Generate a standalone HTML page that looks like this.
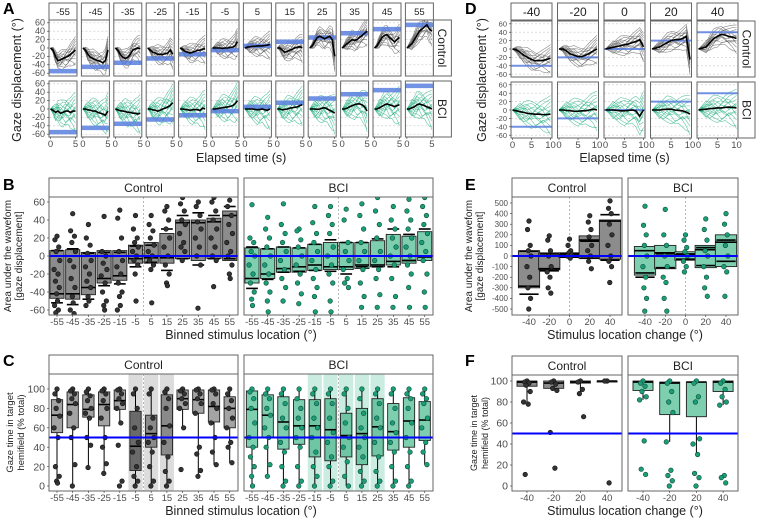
<!DOCTYPE html>
<html><head><meta charset="utf-8"><style>
html,body{margin:0;padding:0;background:#fff;}
svg{display:block;font-family:"Liberation Sans",Arial,sans-serif;}
</style></head><body>
<svg id="fig" width="760" height="519" viewBox="0 0 760 519" xmlns="http://www.w3.org/2000/svg"></svg>
<script>
// ---------- DATA ----------
const catsA = [-55,-45,-35,-25,-15,-5,5,15,25,35,45,55];
const timeA = [0,0.5,1,1.5,2,2.5,3,3.5,4,4.5,5];
const meanCtrlA = [
 [0,-5,-20,-30,-28,-25,-22,-20,-15,-10,-5],
 [0,-5,-15,-22,-25,-28,-30,-32,-35,-30,-5],
 [0,-5,-15,-22,-25,-22,-15,-5,-2,0,-2],
 [0,-5,-10,-12,-15,-15,-15,-14,-12,-5,-15],
 [0,-3,-8,-10,-12,-10,-8,-6,-5,-3,-2],
 [0,0,0,0,-1,0,0,1,2,5,15],
 [0,2,3,4,4,5,5,5,6,7,8],
 [0,0,-5,-10,-8,-5,-3,0,2,3,0],
 [0,5,15,25,28,25,22,25,28,20,-20],
 [0,5,10,15,20,18,20,25,30,35,40],
 [0,5,15,25,30,32,25,20,15,20,25],
 [0,5,10,20,30,40,45,50,55,45,40]];
const meanBciA = [
 [0,-3,-8,-5,-10,-8,-5,-5,-8,-5,-5],
 [0,0,-2,-3,-5,-5,-8,-10,-12,-15,-5],
 [0,-2,-4,-5,-6,-8,-8,-10,-10,-12,-10],
 [0,0,-2,-3,-5,-3,0,2,5,8,15],
 [0,0,-1,-2,-3,-2,-1,-2,-3,2,0],
 [0,0,1,2,3,4,5,6,8,12,20],
 [0,0,0,0,-1,-2,-1,0,-2,-3,0],
 [0,0,-2,-1,0,2,3,4,5,8,10],
 [0,0,0,-1,0,2,3,0,-3,-6,-10],
 [0,0,2,5,8,10,12,12,10,5,-5],
 [0,0,3,6,10,12,10,8,6,8,10],
 [0,0,3,5,10,12,10,8,5,3,0]];
const catsD = [-40,-20,0,20,40];
const timeD = [0,1,2,3,4,5,6,7,8,9,10];
const meanCtrlD = [
 [0,-2,-8,-15,-20,-25,-28,-28,-27,-25,-22],
 [0,0,-5,-12,-15,-18,-18,-15,-10,-5,0],
 [0,2,4,6,8,10,12,15,18,22,5],
 [0,2,5,10,15,20,22,22,25,30,-25],
 [0,2,5,15,25,30,35,33,30,28,25]];
const meanBciD = [
 [0,-2,-4,-6,-8,-9,-10,-10,-11,-11,-10],
 [0,0,-1,-2,-3,-3,-2,-2,0,2,0],
 [0,0,0,-1,-2,-2,-1,0,-2,-15,0],
 [0,0,0,1,2,2,0,-1,-2,-5,-10],
 [0,1,2,3,4,5,5,6,7,6,5]];
// individual-trial deviation patterns (hand-read shapes)
const trialDev = [
 [0,4,10,18,22,25,20,28,35,40,45],
 [0,-3,-8,-14,-20,-25,-30,-28,-35,-40,-38],
 [0,6,5,10,8,14,18,12,10,15,20],
 [0,-5,-6,-4,-10,-12,-8,-15,-18,-12,-10],
 [0,2,12,8,2,-6,-2,5,12,22,30],
 [0,-2,-12,-20,-15,-8,-4,-10,-20,-30,-45],
 [0,8,15,25,32,30,26,20,18,10,5],
 [0,-6,-15,-22,-28,-32,-26,-20,-14,-10,-6],
 [0,3,-2,4,-4,2,-3,6,-6,4,2],
 [0,-1,6,12,18,12,6,2,-4,-2,8],
 [0,5,-4,9,14,4,-8,-12,-6,3,12],
 [0,-4,3,-9,-14,-2,10,16,8,-4,-16],
 [0,10,20,15,5,0,8,18,26,32,36],
 [0,-8,-18,-10,-4,-14,-24,-20,-12,-18,-26]];

const catsB = [-55,-45,-35,-25,-15,-5,5,15,25,35,45,55];
const bCtrlLo  = [-47,-48,-43,-30,-27,-8,-8,-8,-3,-5,-3,-5];
const bCtrlHi  = [6,7,4,6,6,12,15,25,40,40,42,50];
const bCtrlMed = [-42,-42,-35,-25,-22,-3,-2,-2,37,37,38,45];
const bCtrlEL  = [-52,-54,-48,-33,-31,-12,-7,-16,-3,-10,-3,-3];
const bCtrlEH  = [6,8,3,4,4,11,12,30,45,48,45,55];
const bBciLo  = [-30,-25,-18,-18,-16,-15,-15,-14,-12,-10,-8,-5];
const bBciHi  = [9,8,10,9,13,15,15,15,17,24,22,27];
const bBciMed = [-25,-20,-14,-12,-10,-12,-12,-10,-10,-6,-5,-1];
const bBciEL  = [-36,-26,-18,-17,-16,-17,-20,-12,-12,-12,-5,-1];
const bBciEH  = [10,8,10,9,13,18,15,15,19,30,24,30];
const bCtrlPts = [
 [22,18,10,5,-5,-15,-20,-28,-35,-42,-50,-55,-60,-63],
 [47,28,22,15,5,-5,-12,-25,-35,-45,-52,-60,-64],
 [35,20,12,3,-5,-12,-20,-28,-35,-45,-50,-55],
 [44,5,0,-8,-15,-22,-30,-40,-50,-55,-60],
 [51,42,20,5,-5,-12,-20,-30,-40,-45,-55,-60],
 [45,30,20,15,10,5,0,-5,-10,-20,-50],
 [45,35,28,20,12,5,0,-5,-10,-15,-52],
 [55,50,40,30,20,10,0,-10,-20,-30,-33],
 [65,58,50,40,35,25,15,10,5,-5],
 [60,55,45,38,30,20,10,0,-10,-58],
 [65,60,50,40,30,20,10,0,-5,-34],
 [62,55,45,35,25,15,5,0,-10,-20,-25]];
const bBciPts = [
 [57,20,15,5,0,-10,-20,-30,-40,-48,-55],
 [43,30,20,10,0,-10,-20,-30,-40,-50,-62],
 [58,35,25,15,5,-5,-15,-25,-35,-50],
 [30,28,18,10,0,-10,-20,-30,-42,-53],
 [55,37,25,15,5,-5,-15,-25,-35,-45,-62],
 [55,45,35,25,10,0,-10,-20,-30,-50,-62],
 [52,40,15,5,-5,-15,-25,-30,-35],
 [58,45,30,15,5,-5,-15,-30,-45,-57],
 [65,50,35,20,5,-5,-15,-25,-43,-57],
 [55,40,30,20,10,0,-10,-25,-45,-57],
 [63,50,40,30,20,10,0,-10,-20,-35,-57],
 [65,55,45,35,25,15,5,-5,-20,-40,-57]];

const cCtrlQ1  = [55,60,71,62,79,16,40,32,79,75,66,60];
const cCtrlMed = [73,84,79,84,88,41,54,62,90,89,82,80];
const cCtrlQ3  = [89,97,94,97,99,77,73,94,99,99,99,92];
const cCtrlLo  = [3,0,19,13,65,0,0,0,59,10,22,24];
const cCtrlHi  = [100,100,100,100,100,100,100,100,100,100,100,100];
const cBciQ1  = [40,50,38,43,30,26,30,22,31,37,40,47];
const cBciMed = [79,73,66,62,62,58,52,54,61,56,67,68];
const cBciQ3  = [98,94,92,89,89,90,75,80,90,85,91,87];
const cBciLo  = [0,10,0,0,0,0,0,0,0,0,0,22];
const cBciHi  = [100,100,100,100,100,100,100,100,100,100,100,100];
const cCtrlPts = [
 [100,95,88,80,72,60,50,20,10,5,3],[100,98,95,90,85,75,60,50,22,0],
 [100,97,93,88,80,75,70,50,42,19],[100,98,95,88,80,70,50,40,23,13],
 [100,99,95,90,85,80,65,42,5,0],[100,95,80,60,45,35,20,10,5,0],
 [100,95,70,60,50,45,35,20,5,0],[100,97,90,80,62,45,30,15,5,0],
 [100,98,95,90,85,80,60,17],[100,99,95,90,85,75,40,33,16,10],
 [100,99,95,85,80,65,50,35,22],[100,95,88,80,70,60,45,40,24]];
const cBciPts = [
 [100,97,90,80,65,50,40,30,20,10,0],[100,95,90,80,73,60,50,40,22,10],
 [100,95,85,70,60,45,35,20,5,0],[100,90,80,70,60,50,40,20,5,0],
 [100,95,85,70,60,50,35,20,10,0],[100,95,85,70,55,45,30,20,5,0],
 [100,95,80,65,50,40,25,10,0],[100,90,75,60,50,40,30,15,5,0],
 [100,95,85,70,60,45,30,15,5,0],[100,95,80,65,55,45,35,20,5,0],
 [100,95,90,80,65,50,35,20,5,0],[100,95,90,85,70,60,45,35,22]];
const cCtrlBand = [-5,5,15];
const cBciBand = [-15,-5,5,15,25];

const catsE = [-40,-20,0,20,40];
const eCtrlLo  = [-300,-130,-15,-25,-30];
const eCtrlHi  = [50,30,30,190,340];
const eCtrlMed = [-285,-120,10,150,330];
const eCtrlEL  = [-360,-140,-10,-20,-40];
const eCtrlEH  = [45,20,25,140,390];
const eBciLo  = [-180,-120,-40,-110,-100];
const eBciHi  = [90,100,40,100,200];
const eBciMed = [50,30,10,60,130];
const eBciEL  = [-200,-110,-30,-90,-50];
const eBciEH  = [-160,20,20,80,150];
const eCtrlPts = [[330,250,100,50,0,-100,-200,-300,-400,-500],[190,150,50,0,-100,-150,-200,-300,-350],[160,100,50,30,10,0,-20],[380,320,250,180,100,50,0,-50,-120],[520,450,400,300,200,100,0,-50,-100,-250]];
const eBciPts = [[470,290,200,100,0,-100,-200,-300,-400,-520],[440,200,100,0,-100,-200,-250,-400,-520],[200,150,80,40,0,-50,-100,-150],[350,250,150,50,0,-100,-200,-300,-380],[400,300,200,100,0,-100,-150,-380]];

const catsF = [-40,-20,20,40];
const fCtrlQ1 = [95,93,98,99], fCtrlMed=[99,98,99,100], fCtrlQ3=[100,100,100,100], fCtrlLo=[80,91,88,99], fCtrlHi=[100,100,100,100];
const fBciQ1 = [91,68,66,90], fBciMed=[99,98,99,99], fBciQ3=[100,99,99,100], fBciLo=[82,42,30,77], fBciHi=[100,100,100,100];
const fCtrlPts = [[100,99,98,96,90,80,78,11],[100,99,97,93,91,51,17],[100,99,92,88,66],[100,100,3]];
const fBciPts = [[100,98,95,90,85,82,43,16,11],[100,98,90,80,70,42,15,10,5,0],[100,98,85,80,45,40,30,12,8,0],[100,98,92,85,80,77,10,8,3]];

// ---------- HELPERS ----------
const NS="http://www.w3.org/2000/svg";
const svg=document.getElementById('fig');
function el(tag,attrs,parent){const e=document.createElementNS(NS,tag);for(const k in attrs)e.setAttribute(k,attrs[k]);(parent||svg).appendChild(e);return e;}
function grp(name){const g=el('g',{});return g;}
function txt(p,x,y,s,size,opts){opts=opts||{};const t=el('text',{x:x,y:y,'font-size':size,fill:opts.fill||'#222','text-anchor':opts.anchor||'middle'},p);if(opts.weight)t.setAttribute('font-weight',opts.weight);if(opts.rot)t.setAttribute('transform','rotate('+opts.rot+' '+x+' '+y+')');t.textContent=s;return t;}
function strip(p,x,y,w,h,label,size,vert){const r=el('rect',{x:x,y:y,width:w,height:h,fill:'#fff',stroke:'#666','stroke-width':1},p);
 if(vert)txt(p,x+w/2-size*0.35,y+h/2,label,size,{rot:90});else txt(p,x+w/2,y+h/2+size*0.36,label,size);return r;}
const jit=[0,-0.6,0.5,-0.25,0.8,-0.85,0.3,-0.45,0.65,-0.1,0.15,-0.7,0.4,-0.35];

// ---------- PANEL LETTERS ----------
[['A',3,14],['D',465,14],['B',3,190],['E',465,190],['C',3,366],['F',465,366]].forEach(a=>{
 const t=txt(svg,a[1],a[2],a[0],16,{anchor:'start',weight:'bold',fill:'#000'});
 });

// ---------- TRACE PANELS (A, D) ----------
function tracePanels(cfg){
 const g=grp(cfg.name);
 cfg.cats.forEach((c,i)=>{
  const left=cfg.x0+i*cfg.step;
  const s=strip(g,left,3,cfg.w,17,String(c),cfg.stripSize);
  
  [[cfg.top,cfg.means[0],'#555','ctrl'],[cfg.bot,cfg.means[1],'#1fae7e','bci']].forEach((row,ri)=>{
   const yc=row[0],mean=row[1][i];
   const py=v=>yc - v*0.42;
   const px=t=>left+1.5+t*(cfg.w-3)/cfg.tmax;
   el('rect',{x:left,y:yc-28,width:cfg.w,height:56,fill:'#fff'},g);
   [-60,-40,-20,20,40,60].forEach(v=>el('line',{x1:left,x2:left+cfg.w,y1:py(v),y2:py(v),stroke:'#c8c8c8','stroke-width':0.6,'stroke-dasharray':'2,2'},g));
   const clip='clip'+cfg.name+i+ri;
   const cp=el('clipPath',{id:clip},g);el('rect',{x:left,y:yc-28,width:cfg.w,height:56},cp);
   const tg=el('g',{'clip-path':'url(#'+clip+')'},g);
   trialDev.forEach((d,k)=>{
    const sc=(ri==0?0.8:1.1)*(k%2?1:0.9);
    const pts=cfg.time.map((t,j)=>px(t)+','+py(mean[j]+d[j]*sc));
    const l=el('polyline',{points:pts.join(' '),fill:'none',stroke:row[2],'stroke-width':0.6,opacity:0.7},tg);
    
   });
   const tgt=cfg.targets[i];
   const b=el('line',{x1:left,x2:left+cfg.w,y1:py(tgt),y2:py(tgt),stroke:'#5a7fe0','stroke-width':cfg.bandW,opacity:0.85},tg);
   
   const m=el('polyline',{points:cfg.time.map((t,j)=>px(t)+','+py(mean[j])).join(' '),fill:'none',stroke:'#000','stroke-width':1.6},tg);
   
   el('rect',{x:left,y:yc-28,width:cfg.w,height:56,fill:'none',stroke:'#666','stroke-width':1},g);
   if(i==0){[60,40,20,0,-20,-40,-60].forEach(v=>{txt(g,left-4,py(v)+2.8,String(v),cfg.tickSize,{anchor:'end',fill:'#4d4d4d'});el('line',{x1:left-2,x2:left,y1:py(v),y2:py(v),stroke:'#333','stroke-width':0.6},g);});}
   if(ri==1){cfg.xt.forEach(t=>{el('line',{x1:px(t),x2:px(t),y1:yc+28,y2:yc+30,stroke:'#333','stroke-width':0.6},g);txt(g,px(t),yc+38,String(t),9.5,{fill:'#4d4d4d'});});}
  });
 });
 const rx=cfg.x0+(cfg.cats.length-1)*cfg.step+cfg.w;
 strip(g,rx,cfg.top-28,cfg.rsw,56,'Control',12,true);
 strip(g,rx,cfg.bot-28,cfg.rsw,56,'BCI',12,true);
 const mid=(cfg.x0+rx)/2;
 const xt=txt(g,mid,162,'Elapsed time (s)',12.5);
 const yt=txt(g,cfg.ylx,80,'Gaze displacement (°)',12.5,{rot:-90});
}
tracePanels({name:'panel-a',cats:catsA,targets:catsA,time:timeA,tmax:5,xt:[0,5],means:[meanCtrlA,meanBciA],x0:49,step:32.4,w:28,top:48,bot:109,stripSize:9.5,tickSize:9,rsw:18,ylx:21,bandW:4.5});
tracePanels({name:'panel-d',cats:catsD,targets:catsD,time:timeD,tmax:10,xt:[0,5,10],means:[meanCtrlD,meanBciD],x0:511,step:46.5,w:41,top:49,bot:110,stripSize:12,tickSize:7.5,rsw:17,ylx:486,bandW:2});

// ---------- BOX PANELS ----------
function facet(g,x,w,ys,ye,label,ss){strip(g,x,ys,w,19,label,ss);el('rect',{x:x,y:ys+19,width:w,height:ye-ys-19,fill:'#fff',stroke:'none'},g);}
function boxPanel(cfg){
 const g=grp(cfg.name);
 cfg.facets.forEach((f,fi)=>{
  const x0=f.x, xs=i=>x0+cfg.first+i*cfg.step, py=v=>cfg.y0-v*cfg.k;
  facet(g,x0,cfg.w,cfg.ys,cfg.ye,f.label,12);
  if(f.bands)f.bands.forEach(b=>{const i=cfg.cats.indexOf(b);const r=el('rect',{x:xs(i)-cfg.step*0.45,y:cfg.ys+19,width:cfg.step*0.9,height:cfg.ye-cfg.ys-19,fill:f.bandFill,opacity:0.6},g);});
  if(cfg.vline!=null){const vx=cfg.vline(xs);el('line',{x1:vx,x2:vx,y1:cfg.ys+19,y2:cfg.ye,stroke:'#999','stroke-width':0.7,'stroke-dasharray':'2,2'},g);}
  const clip='c'+cfg.name+fi;const cp=el('clipPath',{id:clip},g);el('rect',{x:x0,y:cfg.ys+19,width:cfg.w,height:cfg.ye-cfg.ys-19},cp);
  const pg=el('g',{'clip-path':'url(#'+clip+')'},g);
  cfg.cats.forEach((c,i)=>{
   const cx=xs(i),bw=cfg.step*cfg.bw;
   let fill=f.fill; if(f.bands&&f.bands.indexOf(c)>=0&&f.bandBox)fill=(c==-5&&f.dark)?f.dark:f.bandBox;
   if(cfg.type=='C'){
    el('line',{x1:cx,x2:cx,y1:py(f.hi[i]),y2:py(f.lo[i]),stroke:'#000','stroke-width':1},pg);
   }
   const b=el('rect',{x:cx-bw/2,y:py(f.q3[i]),width:bw,height:Math.max(1,py(f.q1[i])-py(f.q3[i])),fill:fill,stroke:'#222','stroke-width':0.9},pg);
   
   el('line',{x1:cx-bw/2,x2:cx+bw/2,y1:py(f.med[i]),y2:py(f.med[i]),stroke:'#000','stroke-width':1.6},pg);
   if(cfg.type=='B'){const cw=cfg.step*cfg.cw;[f.el[i],f.eh[i]].forEach(v=>el('line',{x1:cx-cw/2,x2:cx+cw/2,y1:py(v),y2:py(v),stroke:'#000','stroke-width':1.6},pg));}
   f.pts[i].forEach((v,j)=>{const p=el('circle',{cx:cx+jit[j%jit.length]*cfg.step*cfg.jw,cy:py(v),r:2.3,fill:f.pf,stroke:f.ps,'stroke-width':0.6},pg);});
  });
  const bl=el('line',{x1:x0,x2:x0+cfg.w,y1:py(cfg.ref),y2:py(cfg.ref),stroke:'#0000ff','stroke-width':2},pg);
  
  el('rect',{x:x0,y:cfg.ys+19,width:cfg.w,height:cfg.ye-cfg.ys-19,fill:'none',stroke:'#666','stroke-width':1},g);
  cfg.cats.forEach((c,i)=>{el('line',{x1:xs(i),x2:xs(i),y1:cfg.ye,y2:cfg.ye+2,stroke:'#333','stroke-width':0.6},g);txt(g,xs(i),cfg.ye+10,String(c),cfg.xts,{fill:'#4d4d4d'});});
  if(fi==0)cfg.yticks.forEach(v=>{el('line',{x1:x0-2,x2:x0,y1:py(v),y2:py(v),stroke:'#333','stroke-width':0.6},g);txt(g,x0-4,py(v)+cfg.yts*0.35,String(v),cfg.yts,{anchor:'end',fill:'#4d4d4d'});});
 });
 const mid=cfg.facets[0].x+(cfg.facets[1].x+cfg.w-cfg.facets[0].x)/2;
 const xt=txt(g,mid,cfg.ye+24,cfg.xtitle,12.5);
 const ymid=(cfg.ys+19+cfg.ye)/2;
 const y1=txt(g,cfg.ylx[0],ymid,cfg.ytitle[0],cfg.ylsize,{rot:-90});
 txt(g,cfg.ylx[1],ymid,cfg.ytitle[1],cfg.ylsize,{rot:-90});
}
const GREY='#8c8c8c',GREEN='#7dcfb0';
boxPanel({name:'panel-b',type:'B',cats:catsB,w:189,first:8,step:15.7,bw:0.9,cw:0.75,jw:0.22,ys:178,ye:315,y0:256,k:0.9,ref:0,
 vline:xs=>(xs(5)+xs(6))/2,yticks:[60,40,20,0,-20,-40,-60],yts:10.5,xts:9.5,
 xtitle:'Binned stimulus location (°)',ytitle:['Area under the waveform','[gaze displacement]'],ylx:[11,22],ylsize:10,
 facets:[{x:49,label:'Control',fill:GREY,pf:'#333',ps:'#111',q1:bCtrlLo,q3:bCtrlHi,med:bCtrlMed,el:bCtrlEL,eh:bCtrlEH,pts:bCtrlPts},
         {x:244,label:'BCI',fill:GREEN,pf:'#1b9e77',ps:'#0b4a38',q1:bBciLo,q3:bBciHi,med:bBciMed,el:bBciEL,eh:bBciEH,pts:bBciPts}]});
boxPanel({name:'panel-c',type:'C',cats:catsB,w:189,first:8,step:15.7,bw:0.72,cw:0.75,jw:0.22,ys:355,ye:491,y0:486,k:0.97,ref:50,
 vline:xs=>(xs(5)+xs(6))/2,yticks:[100,80,60,40,20,0],yts:10.5,xts:9.5,
 xtitle:'Binned stimulus location (°)',ytitle:['Gaze time in target','hemifield (% total)'],ylx:[13,24],ylsize:9.5,
 facets:[{x:49,label:'Control',fill:'#a3a3a3',bands:cCtrlBand,bandFill:'#c4c4c4',bandBox:'#8a8a8a',dark:'#6a6a6a',pf:'#333',ps:'#111',q1:cCtrlQ1,q3:cCtrlQ3,med:cCtrlMed,lo:cCtrlLo,hi:cCtrlHi,pts:cCtrlPts},
         {x:244,label:'BCI',fill:GREEN,bands:cBciBand,bandFill:'#a8e0cb',bandBox:'#6fc6a4',pf:'#1b9e77',ps:'#0b4a38',q1:cBciQ1,q3:cBciQ3,med:cBciMed,lo:cBciLo,hi:cBciHi,pts:cBciPts}]});
boxPanel({name:'panel-e',type:'B',cats:catsE,w:110,first:17,step:20.25,bw:1.05,cw:0.95,jw:0.12,ys:178,ye:315,y0:256,k:0.106,ref:0,
 vline:xs=>xs(2),yticks:[500,400,300,200,100,0,-100,-200,-300,-400,-500],yts:8,xts:9.5,
 xtitle:'Stimulus location change (°)',ytitle:['Area under the waveform','[gaze displacement]'],ylx:[472,483],ylsize:10,
 facets:[{x:512,label:'Control',fill:GREY,pf:'#333',ps:'#111',q1:eCtrlLo,q3:eCtrlHi,med:eCtrlMed,el:eCtrlEL,eh:eCtrlEH,pts:eCtrlPts},
         {x:628,label:'BCI',fill:GREEN,pf:'#1b9e77',ps:'#0b4a38',q1:eBciLo,q3:eBciHi,med:eBciMed,el:eBciEL,eh:eBciEH,pts:eBciPts}]});
boxPanel({name:'panel-f',type:'C',cats:catsF,w:110,first:15,step:26.7,bw:0.75,cw:0.75,jw:0.15,ys:356,ye:491,y0:486,k:1.05,ref:50,
 vline:null,yticks:[100,80,60,40,20,0],yts:10.5,xts:9.5,
 xtitle:'Stimulus location change (°)',ytitle:['Gaze time in target','hemifield (% total)'],ylx:[477,488],ylsize:9,
 facets:[{x:512,label:'Control',fill:GREY,pf:'#333',ps:'#111',q1:fCtrlQ1,q3:fCtrlQ3,med:fCtrlMed,lo:fCtrlLo,hi:fCtrlHi,pts:fCtrlPts},
         {x:628,label:'BCI',fill:GREEN,pf:'#1b9e77',ps:'#0b4a38',q1:fBciQ1,q3:fBciQ3,med:fBciMed,lo:fBciLo,hi:fBciHi,pts:fBciPts}]});
</script>
</body></html>
